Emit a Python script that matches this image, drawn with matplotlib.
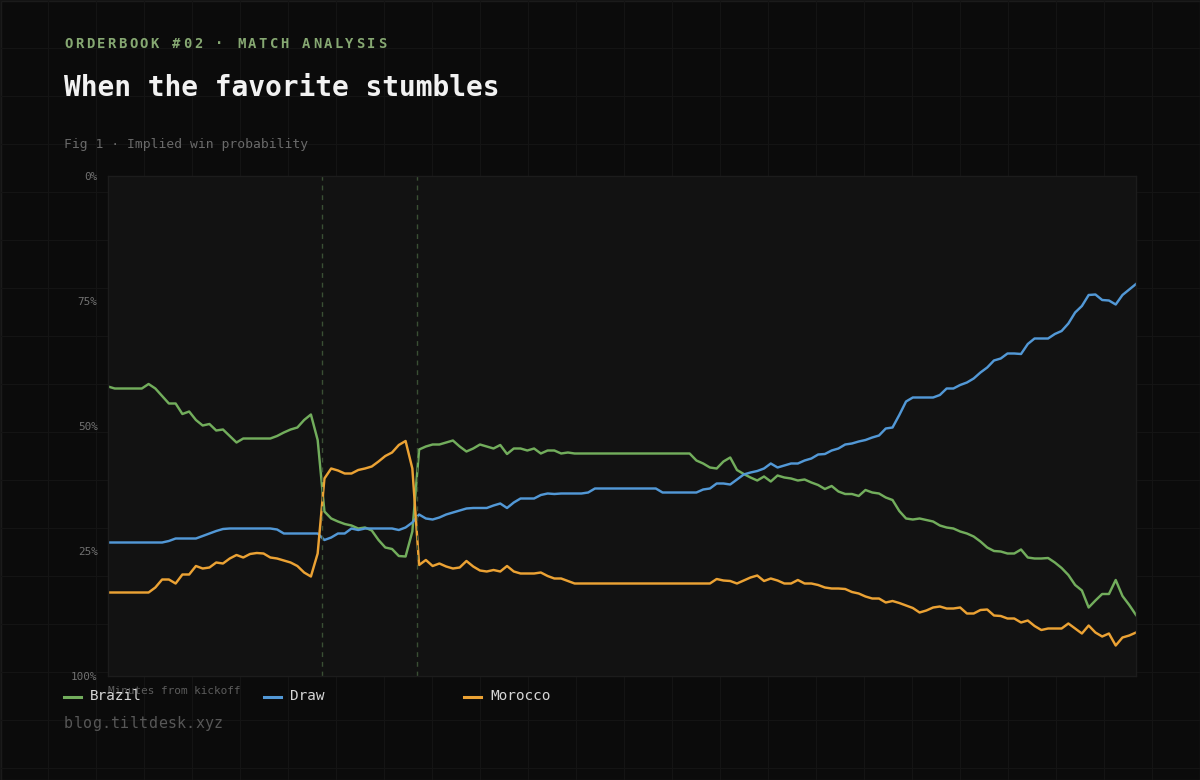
import numpy as np
import matplotlib
matplotlib.use('Agg')
import matplotlib.pyplot as plt
from matplotlib.lines import Line2D

plt.rcParams['font.family'] = ['DejaVu Sans Mono', 'DejaVu Sans']

W, H = 1200, 780

# Implied win probability, sampled every ~0.63 min
brazil = [
    .579, .575, .575, .575, .575, .575, .584, .575, .560, .545,
    .545, .524, .529, .512, .501, .504, .491, .493, .480, .467,
    .475, .475, .475, .475, .475, .480, .487, .493, .497, .512,
    .523, .472, .329, .315, .309, .304, .301, .295, .297, .291,
    .272, .257, .254, .240, .239, .289, .453, .459, .463, .463,
    .467, .471, .459, .449, .455, .463, .459, .455, .462, .444,
    .455, .455, .451, .455, .445, .451, .451, .445, .447, .445,
    .445, .445, .445, .445, .445, .445, .445, .445, .445, .445,
    .445, .445, .445, .445, .445, .445, .445, .431, .425,
    .417, .415, .429, .437, .412, .404, .397, .391, .399, .389,
    .401, .397, .395, .391, .393, .387, .382, .374, .380,
    .369, .364, .364, .360, .372, .367, .365, .357, .352, .330,
    .315, .313, .315, .312, .309, .301, .297, .295, .289,
    .285, .279, .269, .257, .250, .249, .245, .245, .253, .237,
    .235, .235, .236, .227, .216, .202, .182, .171, .137, .151,
    .164, .164, .192, .160, .142, .122,
]
draw = [
    .267, .267, .267, .267, .267, .267, .267, .267, .267, .270,
    .275, .275, .275, .275, .280, .285, .290, .294, .295, .295,
    .295, .295, .295, .295, .295, .293, .285, .285, .285, .285,
    .285, .285, .272, .277, .285, .285, .295, .292, .295, .295,
    .295, .295, .295, .292, .297, .307, .323, .315, .313, .317,
    .323, .327, .331, .335, .336, .336, .336, .341, .345, .336,
    .347, .355, .355, .355, .362, .365, .364, .365, .365, .365,
    .365, .367, .375, .375, .375, .375, .375, .375, .375,
    .375, .375, .375, .367, .367, .367, .367, .367, .367, .373,
    .375, .385, .385, .383, .393, .403, .407, .410, .415, .425,
    .417, .421, .425, .425, .431, .435, .443, .444, .451,
    .455, .463, .465, .469, .472, .477, .481, .495, .497, .522,
    .549, .557, .557, .557, .557, .562, .575, .575, .582,
    .587, .595, .607, .617, .631, .635, .645, .645, .644, .664,
    .675, .675, .675, .684, .690, .705, .727, .740, .762, .763,
    .752, .751, .743, .762, .773, .784,
]
morocco = [
    .167, .167, .167, .167, .167, .167, .167, .177, .193, .193,
    .185, .203, .203, .220, .215, .217, .227, .225, .235, .242,
    .237, .244, .246, .245, .237, .235, .231, .227, .220, .207,
    .199, .245, .395, .415, .411, .405, .405, .412, .415, .419,
    .429, .440, .447, .462, .470, .415, .222, .232, .220, .225,
    .219, .215, .217, .230, .219, .211, .209, .212, .209, .220,
    .209, .205, .205, .205, .207, .200, .195, .195, .190, .185,
    .185, .185, .185, .185, .185, .185, .185, .185, .185,
    .185, .185, .185, .185, .185, .185, .185, .185, .185, .185,
    .185, .194, .191, .190, .185, .191, .197, .201, .190, .195,
    .191, .185, .185, .192, .185, .185, .182, .177, .175,
    .175, .174, .168, .165, .159, .155, .155, .147, .150, .146,
    .141, .136, .127, .131, .137, .139, .135, .135, .137,
    .125, .125, .132, .133, .121, .120, .115, .115, .107, .111,
    .100, .092, .095, .095, .095, .105, .095, .085, .101, .087,
    .079, .085, .061, .077, .081, .087,
]
minutes = np.linspace(0, 96, len(brazil))
goal_minutes = [20.0, 28.9]

names = ['Brazil', 'Draw', 'Morocco']
colors = ['#72ad5c', '#5298d6', '#eba234']
ytick_vals = [0, 0.25, 0.5, 0.75, 1.0]
ytick_labels = ['100%', '25%', '50%', '75%', '0%']

fig = plt.figure(figsize=(12, 7.8), dpi=100, facecolor='#0b0b0b')


def px(x, y):
    return x / W, 1 - y / H


def spaced(x, y, s, adv, **kw):
    for k, ch in enumerate(s):
        fig.text(*px(x + k * adv, y), ch, **kw)


# background grid
bg = fig.add_axes([0, 0, 1, 1])
bg.set_xlim(0, W)
bg.set_ylim(H, 0)
bg.axis('off')
for gx in range(0, W + 1, 48):
    bg.axvline(gx, color='#141414', lw=0.8)
for gy in range(0, H + 1, 48):
    bg.axhline(gy, color='#141414', lw=0.8)
bg.add_patch(plt.Rectangle((0.5, 0.5), W - 1, H - 1, fill=False,
                           edgecolor='#1c1c1c', lw=1))

# main plot
ax = fig.add_axes([108 / W, (H - 676) / H, 1028 / W, 500 / H])
ax.set_facecolor('#121212')
for sp in ax.spines.values():
    sp.set_color('#1c1c1c')
    sp.set_linewidth(1)

for vals, c in zip([brazil, draw, morocco], colors):
    ax.plot(minutes, vals, color=c, lw=1.75, solid_joinstyle='round')

for g in goal_minutes:
    ax.axvline(g, color='#3a4f34', lw=1, dashes=(3.5, 3.5))

ax.set_xlim(minutes[0], minutes[-1])
ax.set_ylim(0, 1)
ax.set_xticks([])
ax.set_yticks(ytick_vals)
ax.set_yticklabels(ytick_labels)
ax.tick_params(axis='y', length=0, pad=7.5, labelsize=7.9, labelcolor='#727272')

# texts
spaced(64, 48.5, 'ORDERBOOK #02 · MATCH ANALYSIS', 10.82, color='#86a872',
       fontsize=10, fontweight='bold', va='baseline', ha='left')
fig.text(*px(63.5, 96), 'When the favorite stumbles', color='#f2f2f2',
         fontsize=20.1, fontweight='bold', va='baseline', ha='left')
fig.text(*px(64, 148), 'Fig 1 · Implied win probability', color='#6a6a6a',
         fontsize=9.4, va='baseline', ha='left')
fig.text(*px(108, 694), 'Minutes from kickoff', color='#5c5c5c',
         fontsize=7.9, va='baseline', ha='left')
spaced(64, 728, 'blog.tiltdesk.xyz', 9.37, color='#575757',
       fontsize=10.8, va='baseline', ha='left')

# legend
for k, (name, c) in enumerate(zip(names, colors)):
    x0 = 64 + 200 * k
    fig.add_artist(Line2D([x0 / W, (x0 + 17) / W], [1 - 697 / H, 1 - 697 / H],
                          color=c, lw=2.2))
    fig.text(*px(x0 + 26, 700), name, color='#d6d6d6', fontsize=10.4,
             va='baseline', ha='left')

fig.savefig('out.png', dpi=100, facecolor=fig.get_facecolor())
